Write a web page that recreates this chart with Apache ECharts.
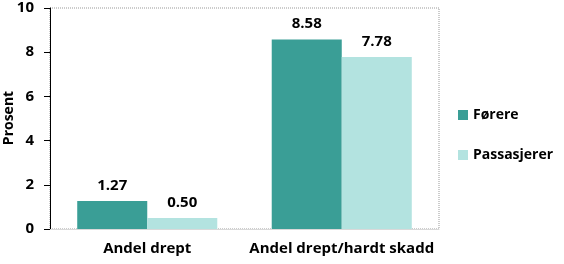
<!DOCTYPE html>
<html><head><meta charset="utf-8">
<script src="https://cdn.jsdelivr.net/npm/echarts@6/dist/echarts.min.js"></script>
<style>html,body{margin:0;padding:0;background:#fff}#c{width:564px;height:264px}</style>
</head><body><div id="c"></div>
<script>
var categories = ['Andel drept', 'Andel drept/hardt skadd'];
var seriesNames = ['Førere', 'Passasjerer'];
var forere = [1.27, 8.58];
var passasjerer = [0.50, 7.78];
var yTicks = [0, 2, 4, 6, 8, 10];
var yAxisTitle = 'Prosent';

var FONT = '"Open Sans", sans-serif';
var chart = echarts.init(document.getElementById('c'));
var lbl = {show: true, position: 'top', distance: 8, color: '#000', fontFamily: FONT, fontWeight: 'bold', fontSize: 15,
  formatter: function (p) { return p.value.toFixed(2); }};
chart.setOption({
  animation: false,
  grid: {left: 50, right: 125, top: 8, bottom: 35, outerBoundsMode: 'none', containLabel: false,
    show: true, borderColor: '#999', borderWidth: 1, borderType: 'dotted'},
  graphic: [{type: 'text', x: 9, y: 118, rotation: Math.PI / 2,
    style: {text: yAxisTitle, align: 'center', verticalAlign: 'middle', fill: '#000',
      font: 'bold 14px "Open Sans", sans-serif'}}],
  legend: {orient: 'vertical', left: 453, top: 103, itemWidth: 10, itemHeight: 10, itemGap: 26, icon: 'rect',
    textStyle: {fontFamily: FONT, fontWeight: 'bold', fontSize: 14, color: '#000'}, data: seriesNames},
  xAxis: {type: 'category', data: categories,
    axisLine: {lineStyle: {color: '#d9d9d9', width: 1}}, axisTick: {show: false},
    axisLabel: {interval: 0, color: '#000', fontFamily: FONT, fontWeight: 'bold', fontSize: 15, margin: 12}},
  yAxis: {type: 'value', min: yTicks[0], max: yTicks[yTicks.length - 1], interval: 2,
    axisLine: {show: true, lineStyle: {color: '#000', width: 1}},
    axisTick: {show: true, length: 6, lineStyle: {color: '#000'}},
    splitLine: {show: false},
    axisLabel: {color: '#000', fontFamily: FONT, fontWeight: 'bold', fontSize: 15, margin: 16}},
  series: [
    {name: seriesNames[0], type: 'bar', data: forere, barGap: '0%', barCategoryGap: '28%',
      itemStyle: {color: '#3A9E96'}, label: lbl},
    {name: seriesNames[1], type: 'bar', data: passasjerer, barGap: '0%', barCategoryGap: '28%',
      itemStyle: {color: '#B3E3E0'}, label: lbl}
  ]
});
</script></body></html>
